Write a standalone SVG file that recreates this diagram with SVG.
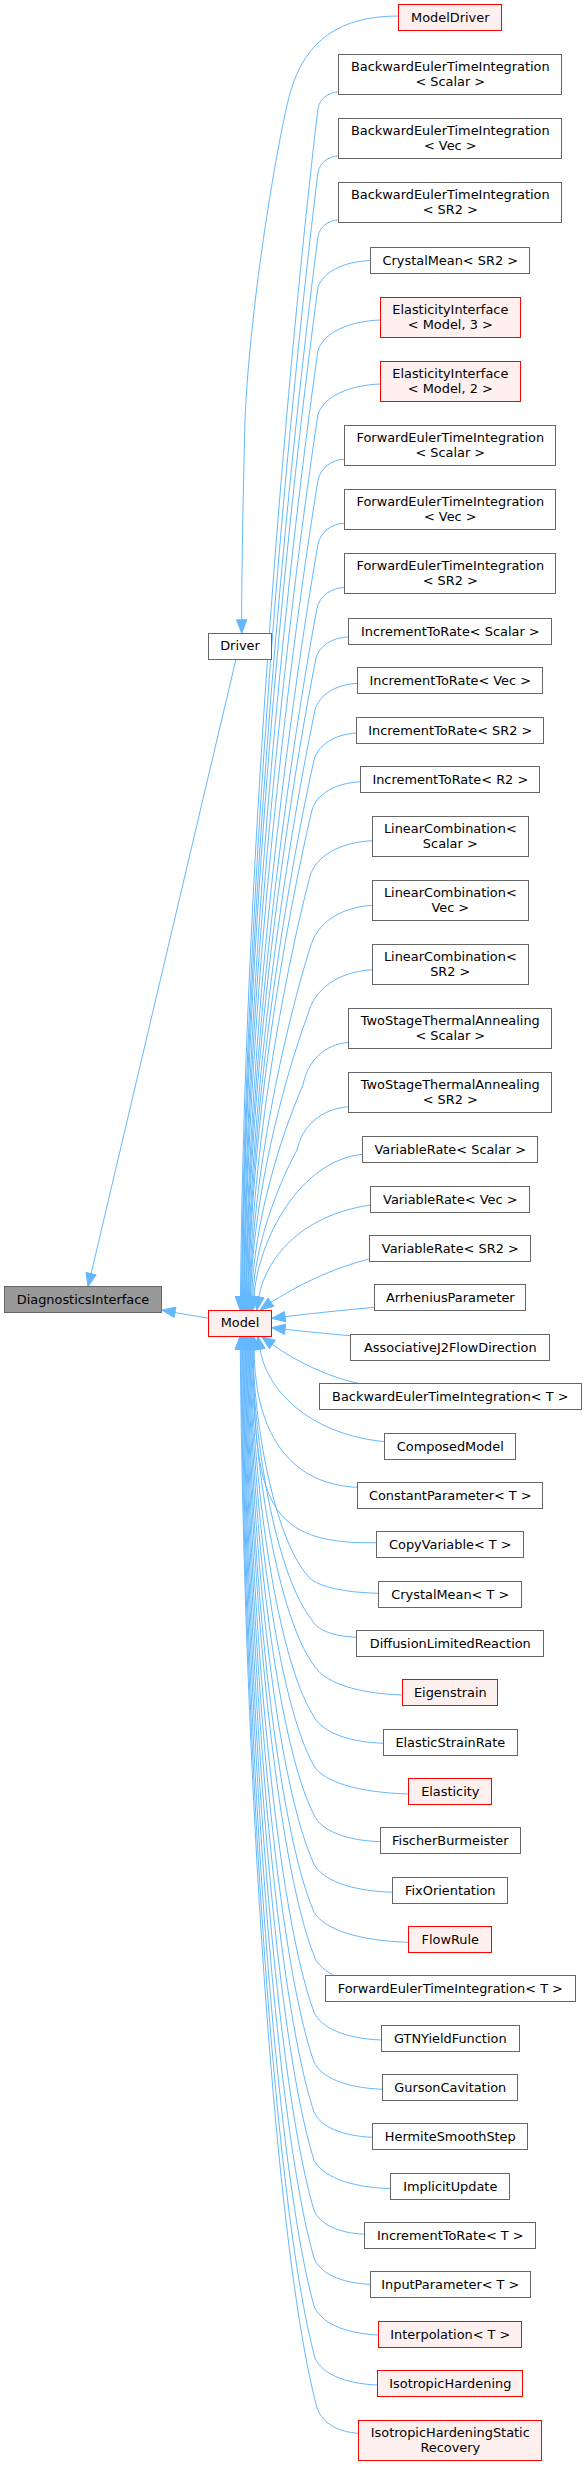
<svg xmlns="http://www.w3.org/2000/svg" width="587" height="2466" viewBox="0 0 587 2466">
<style>
rect{stroke-width:1}
.n rect{fill:#fff;stroke:#666}
.r rect{fill:#fff0f0;stroke:#f00}
.g rect{fill:#999;stroke:#666}
text{font-family:"DejaVu Sans","Liberation Sans",sans-serif;font-size:12.9px;text-anchor:middle;fill:#000}
#edges path{fill:none;stroke:#63b8ff;stroke-width:1}
#edges polygon{fill:#63b8ff;stroke:#63b8ff;stroke-width:1}
</style>
<rect width="587" height="2466" fill="#fff"/>
<g id="edges">
<path d="M398.6,16 C340,16 305,40 290,93.3 C279,133 250,300 245,420 C243.5,480 241.7,560 241.7,619.8"/>
<polygon points="241.7,633.3 236.5,619.8 246.9,619.8"/>
<path d="M236,659 L91.1,1273.6"/>
<polygon points="88,1286.7 96.2,1274.8 86,1272.4"/>
<path d="M208.8,1318.3 L175,1312.6"/>
<polygon points="161.7,1310 174.1,1317.4 175.9,1307.2"/>
<path d="M240.5,1296.5 C244.4,880.5 283.1,405.1 318,108 C320.1,99 327.5,92.5 339,91.7"/>
<polygon points="240,1310 235.3,1296.5 245.7,1296.5"/>
<path d="M241.5,1296.5 C245.3,902.9 283.6,453.1 318,172 C320.1,163 327.5,156.5 339,155.7"/>
<polygon points="241,1310 236.3,1296.5 246.7,1296.5"/>
<path d="M242,1296.5 C245.8,925.3 283.8,501.1 318,236 C320.1,227 327.5,220.5 339,219.7"/>
<polygon points="241.5,1310 236.8,1296.5 247.2,1296.5"/>
<path d="M242.5,1296.5 C246.3,943.2 284,539.4 318,287 C323.3,272.4 341.8,261.8 370.8,260.5"/>
<polygon points="242,1310 237.3,1296.5 247.7,1296.5"/>
<path d="M243.5,1296.5 C247.2,965.2 284.5,586.6 318,350 C324.2,333.5 346,321.5 380.3,320"/>
<polygon points="243,1310 238.3,1296.5 248.7,1296.5"/>
<path d="M244,1296.5 C247.7,987.6 284.7,634.6 318,414 C324.2,397.5 346,385.5 380.3,384"/>
<polygon points="243.5,1310 238.8,1296.5 249.2,1296.5"/>
<path d="M244.5,1296.5 C248.2,1010.7 284.9,684.1 318,480 C320.7,468.5 330.2,460 344.8,459"/>
<polygon points="244,1310 239.3,1296.5 249.7,1296.5"/>
<path d="M245.5,1296.5 C249.1,1033.1 285.4,732.1 318,544 C320.7,532.5 330.2,524 344.8,523"/>
<polygon points="245,1310 240.3,1296.5 250.7,1296.5"/>
<path d="M246,1296.5 C249.6,1055.5 285,780.1 317,608 C319.8,596.6 329.6,588.3 344.8,587.3"/>
<polygon points="245.5,1310 240.8,1296.5 251.2,1296.5"/>
<path d="M246.5,1296.5 C250,1073 284.7,817.6 316,658 C319.3,646.3 330.8,637.8 348.9,636.7"/>
<polygon points="246,1310 241.3,1296.5 251.7,1296.5"/>
<path d="M247.5,1296.5 C250.9,1091.2 284.6,856.6 315,710 C319.3,695.3 334.3,684.6 357.85,683.3"/>
<polygon points="247,1310 242.3,1296.5 252.7,1296.5"/>
<path d="M248,1296.5 C251.3,1108.7 284.3,894.1 314,760 C318.3,745.2 333.4,734.4 356.9,733"/>
<polygon points="247.5,1310 242.8,1296.5 253.2,1296.5"/>
<path d="M248.5,1296.5 C251.7,1126.2 283.4,931.6 312,810 C316.9,794.4 334,783.1 360.85,781.7"/>
<polygon points="248,1310 243.3,1296.5 253.7,1296.5"/>
<path d="M249.5,1296.5 C252.5,1149.3 282.8,981.1 310,876 C316.2,856.6 338.1,842.5 372.3,840.7"/>
<polygon points="249,1310 244.3,1296.5 254.7,1296.5"/>
<path d="M250,1296.5 C253,1174.5 283,1035.1 310,948 C316.2,924.5 338.1,907.4 372.3,905.3"/>
<polygon points="249.5,1310 244.8,1296.5 255.2,1296.5"/>
<path d="M250.5,1296.5 C253.4,1197.6 282.1,1084.6 308,1014 C314.4,989.6 337,971.9 372.3,969.7"/>
<polygon points="250,1310 245.3,1296.5 255.7,1296.5"/>
<path d="M251.6,1296.5 C254.2,1222.5 279.9,1137.9 303,1085 C307.6,1061.5 323.6,1044.4 348.9,1042.3"/>
<polygon points="251,1310 246.4,1296.5 256.8,1296.5"/>
<path d="M252.8,1296.5 C255,1245.2 277.1,1186.6 297,1150 C302.2,1126.2 320.3,1108.9 348.9,1106.7"/>
<polygon points="252,1310 247.6,1296.5 258,1296.5"/>
<path d="M254,1296.6 C258,1240 300,1160 362.9,1154.3"/>
<polygon points="253,1310 248.8,1296.6 259.2,1296.6"/>
<path d="M259,1297 C265,1260 300,1215 370.8,1205"/>
<polygon points="256.8,1310.3 264.1,1297.8 253.9,1296.2"/>
<path d="M271,1302.2 C290,1291 320,1272 370,1258.7"/>
<polygon points="260,1310 274,1306.4 268,1298"/>
<path d="M285.1,1316.7 C315,1313 345,1310 374.9,1307.3"/>
<polygon points="271.7,1318.3 285.7,1321.9 284.5,1311.5"/>
<path d="M285.1,1329.3 C310,1332 330,1334 350.75,1335.7"/>
<polygon points="271.7,1327.7 284.5,1334.5 285.7,1324.1"/>
<path d="M272.4,1344.5 C295,1361 330,1378 361.2,1384"/>
<polygon points="261.5,1336.5 269.3,1348.7 275.5,1340.3"/>
<path d="M260,1349.3 C268,1395 315,1435 384.8,1441.7"/>
<polygon points="257.7,1336 254.9,1350.2 265.1,1348.4"/>
<path d="M254.1,1349.5 C255,1440 295,1485 357.85,1487.3"/>
<polygon points="254,1336 248.9,1349.5 259.3,1349.5"/>
<path d="M253.3,1349.5 C254,1500 265,1545 376.95,1542.7"/>
<polygon points="253,1336 248.1,1349.5 258.5,1349.5"/>
<path d="M252.6,1349.5 C255.4,1440.1 277.5,1542 308,1576 C315.1,1585.5 340,1592.4 379,1593.3"/>
<polygon points="252.3,1336 247.4,1349.5 257.8,1349.5"/>
<path d="M251.9,1349.5 C254.9,1457.7 278.9,1579.4 312,1620 C316.5,1629.5 332.3,1636.4 356.9,1637.3"/>
<polygon points="251.6,1336 246.7,1349.5 257.1,1349.5"/>
<path d="M251.1,1349.5 C254.2,1475.3 279,1616.8 313,1664 C322,1681 353.4,1693.5 402.6,1695"/>
<polygon points="250.8,1336 245.9,1349.5 256.3,1349.5"/>
<path d="M250.4,1349.5 C253.5,1495.7 278.6,1660.2 313,1715 C320.1,1730.6 344.8,1741.9 383.5,1743.3"/>
<polygon points="250.1,1336 245.2,1349.5 255.6,1349.5"/>
<path d="M249.7,1349.5 C252.9,1516.1 278.6,1703.5 314,1766 C323.5,1781.4 356.8,1792.6 408.95,1794"/>
<polygon points="249.4,1336 244.5,1349.5 254.9,1349.5"/>
<path d="M249,1349.5 C252.3,1535.7 278.3,1745.2 314,1815 C320.6,1829.7 343.8,1840.4 380.3,1841.7"/>
<polygon points="248.7,1336 243.8,1349.5 254.2,1349.5"/>
<path d="M248.3,1349.5 C251.6,1555.3 277.9,1786.8 314,1864 C321.9,1879.6 349.4,1890.9 392.65,1892.3"/>
<polygon points="248,1336 243.1,1349.5 253.5,1349.5"/>
<path d="M247.5,1349.5 C250.8,1574.5 277.4,1827.6 314,1912 C323.5,1928.7 356.8,1940.8 408.95,1942.3"/>
<polygon points="247.2,1336 242.3,1349.5 252.7,1349.5"/>
<path d="M246.8,1349.5 C250.2,1592.9 277.5,1866.7 315,1958 C318,1965 326,1971.5 335,1976"/>
<polygon points="246.5,1336 241.6,1349.5 252,1349.5"/>
<path d="M246.1,1349.5 C249.5,1614.5 276.7,1912.6 314,2012 C320.7,2027.4 344.3,2038.6 381.45,2040"/>
<polygon points="245.8,1336 240.9,1349.5 251.3,1349.5"/>
<path d="M245.4,1349.5 C248.8,1634.5 276.3,1955.1 314,2062 C320.9,2077 344.8,2087.9 382.75,2089.3"/>
<polygon points="245.1,1336 240.2,1349.5 250.6,1349.5"/>
<path d="M244.7,1349.5 C248.2,1654.5 275.9,1997.6 314,2112 C319.9,2125.9 340.5,2136 372.85,2137.3"/>
<polygon points="244.4,1336 239.5,1349.5 249.9,1349.5"/>
<path d="M243.9,1349.5 C247.4,1673.7 275.4,2038.4 314,2160 C321.7,2175.8 348.5,2187.3 390.8,2188.7"/>
<polygon points="243.6,1336 238.7,1349.5 249.1,1349.5"/>
<path d="M243.2,1349.5 C246.7,1693.7 275.1,2080.9 314,2210 C319.1,2223.4 336.9,2233.1 364.95,2234.3"/>
<polygon points="242.9,1336 238,1349.5 248.4,1349.5"/>
<path d="M242.5,1349.5 C246.1,1712.9 274.7,2121.7 314,2258 C319.6,2272.5 339.2,2283 370.2,2284.3"/>
<polygon points="242.2,1336 237.3,1349.5 247.7,1349.5"/>
<path d="M241.7,1349.5 C245.3,1732.1 274.2,2162.5 314,2306 C320.5,2322 343.1,2333.6 378.8,2335"/>
<polygon points="241.4,1336 236.5,1349.5 246.9,1349.5"/>
<path d="M241,1349.5 C244.7,1752.9 274.3,2206.7 315,2358 C321.3,2372.9 343.2,2383.7 377.7,2385"/>
<polygon points="240.7,1336 235.8,1349.5 246.2,1349.5"/>
<path d="M240.3,1349.5 C244.1,1772.4 274.7,2248.1 316.7,2406.7 C320.9,2421.3 335.5,2432 358.8,2433.3"/>
<polygon points="240,1336 235.1,1349.5 245.5,1349.5"/>
</g>
<g id="DiagnosticsInterface" class="g"><rect x="4.5" y="1286.5" width="157" height="26"/><text x="83" y="1303.5">DiagnosticsInterface</text></g>
<g id="Model" class="r"><rect x="208.5" y="1310.5" width="63" height="26"/><text x="240" y="1327.3">Model</text></g>
<g id="Driver" class="n"><rect x="208.5" y="633.5" width="63" height="26"/><text x="240" y="650.3">Driver</text></g>
<g id="ModelDriver" class="r"><rect x="398.5" y="4.5" width="103" height="26"/><text x="450.3" y="21.5">ModelDriver</text></g>
<g id="BackwardEulerTimeIntegration_Scalar" class="n"><rect x="338.5" y="54.5" width="223" height="40"/><text x="450.3" y="71.3">BackwardEulerTimeIntegration</text><text x="450.3" y="85.7">&lt; Scalar &gt;</text></g>
<g id="BackwardEulerTimeIntegration_Vec" class="n"><rect x="338.5" y="118.5" width="223" height="40"/><text x="450.3" y="135.3">BackwardEulerTimeIntegration</text><text x="450.3" y="149.7">&lt; Vec &gt;</text></g>
<g id="BackwardEulerTimeIntegration_SR2" class="n"><rect x="338.5" y="182.5" width="223" height="40"/><text x="450.3" y="199.3">BackwardEulerTimeIntegration</text><text x="450.3" y="213.7">&lt; SR2 &gt;</text></g>
<g id="CrystalMean_SR2" class="n"><rect x="370.5" y="247.5" width="159" height="26"/><text x="450.3" y="264.5">CrystalMean&lt; SR2 &gt;</text></g>
<g id="ElasticityInterface_3" class="r"><rect x="380.5" y="297.5" width="140" height="40"/><text x="450.3" y="314.3">ElasticityInterface</text><text x="450.3" y="328.7">&lt; Model, 3 &gt;</text></g>
<g id="ElasticityInterface_2" class="r"><rect x="380.5" y="361.5" width="140" height="40"/><text x="450.3" y="378.3">ElasticityInterface</text><text x="450.3" y="392.7">&lt; Model, 2 &gt;</text></g>
<g id="ForwardEulerTimeIntegration_Scalar" class="n"><rect x="344.5" y="425.5" width="211" height="40"/><text x="450.3" y="442.3">ForwardEulerTimeIntegration</text><text x="450.3" y="456.7">&lt; Scalar &gt;</text></g>
<g id="ForwardEulerTimeIntegration_Vec" class="n"><rect x="344.5" y="489.5" width="211" height="40"/><text x="450.3" y="506.3">ForwardEulerTimeIntegration</text><text x="450.3" y="520.7">&lt; Vec &gt;</text></g>
<g id="ForwardEulerTimeIntegration_SR2" class="n"><rect x="344.5" y="553.5" width="211" height="40"/><text x="450.3" y="570.3">ForwardEulerTimeIntegration</text><text x="450.3" y="584.7">&lt; SR2 &gt;</text></g>
<g id="IncrementToRate_Scalar" class="n"><rect x="348.5" y="618.5" width="203" height="26"/><text x="450.3" y="635.5">IncrementToRate&lt; Scalar &gt;</text></g>
<g id="IncrementToRate_Vec" class="n"><rect x="357.5" y="667.5" width="185" height="26"/><text x="450.3" y="684.5">IncrementToRate&lt; Vec &gt;</text></g>
<g id="IncrementToRate_SR2" class="n"><rect x="356.5" y="717.5" width="187" height="26"/><text x="450.3" y="734.5">IncrementToRate&lt; SR2 &gt;</text></g>
<g id="IncrementToRate_R2" class="n"><rect x="360.5" y="766.5" width="179" height="26"/><text x="450.3" y="783.5">IncrementToRate&lt; R2 &gt;</text></g>
<g id="LinearCombination_Scalar" class="n"><rect x="372.5" y="816.5" width="156" height="40"/><text x="450.3" y="833.3">LinearCombination&lt;</text><text x="450.3" y="847.7">Scalar &gt;</text></g>
<g id="LinearCombination_Vec" class="n"><rect x="372.5" y="880.5" width="156" height="40"/><text x="450.3" y="897.3">LinearCombination&lt;</text><text x="450.3" y="911.7">Vec &gt;</text></g>
<g id="LinearCombination_SR2" class="n"><rect x="372.5" y="944.5" width="156" height="40"/><text x="450.3" y="961.3">LinearCombination&lt;</text><text x="450.3" y="975.7">SR2 &gt;</text></g>
<g id="TwoStageThermalAnnealing_Scalar" class="n"><rect x="348.5" y="1008.5" width="203" height="40"/><text x="450.3" y="1025.3">TwoStageThermalAnnealing</text><text x="450.3" y="1039.7">&lt; Scalar &gt;</text></g>
<g id="TwoStageThermalAnnealing_SR2" class="n"><rect x="348.5" y="1072.5" width="203" height="40"/><text x="450.3" y="1089.3">TwoStageThermalAnnealing</text><text x="450.3" y="1103.7">&lt; SR2 &gt;</text></g>
<g id="VariableRate_Scalar" class="n"><rect x="362.5" y="1136.5" width="175" height="26"/><text x="450.3" y="1153.5">VariableRate&lt; Scalar &gt;</text></g>
<g id="VariableRate_Vec" class="n"><rect x="370.5" y="1186.5" width="159" height="26"/><text x="450.3" y="1203.5">VariableRate&lt; Vec &gt;</text></g>
<g id="VariableRate_SR2" class="n"><rect x="369.5" y="1235.5" width="161" height="26"/><text x="450.3" y="1252.5">VariableRate&lt; SR2 &gt;</text></g>
<g id="ArrheniusParameter" class="n"><rect x="374.5" y="1284.5" width="151" height="26"/><text x="450.3" y="1301.5">ArrheniusParameter</text></g>
<g id="AssociativeJ2FlowDirection" class="n"><rect x="350.5" y="1334.5" width="199" height="26"/><text x="450.3" y="1351.5">AssociativeJ2FlowDirection</text></g>
<g id="BackwardEulerTimeIntegration_T" class="n"><rect x="319.5" y="1383.5" width="262" height="26"/><text x="450.3" y="1400.5">BackwardEulerTimeIntegration&lt; T &gt;</text></g>
<g id="ComposedModel" class="n"><rect x="384.5" y="1433.5" width="131" height="26"/><text x="450.3" y="1450.5">ComposedModel</text></g>
<g id="ConstantParameter_T" class="n"><rect x="357.5" y="1482.5" width="185" height="26"/><text x="450.3" y="1499.5">ConstantParameter&lt; T &gt;</text></g>
<g id="CopyVariable_T" class="n"><rect x="376.5" y="1531.5" width="147" height="26"/><text x="450.3" y="1548.5">CopyVariable&lt; T &gt;</text></g>
<g id="CrystalMean_T" class="n"><rect x="378.5" y="1581.5" width="143" height="26"/><text x="450.3" y="1598.5">CrystalMean&lt; T &gt;</text></g>
<g id="DiffusionLimitedReaction" class="n"><rect x="356.5" y="1630.5" width="187" height="26"/><text x="450.3" y="1647.5">DiffusionLimitedReaction</text></g>
<g id="Eigenstrain" class="r"><rect x="402.5" y="1679.5" width="95" height="26"/><text x="450.3" y="1696.5">Eigenstrain</text></g>
<g id="ElasticStrainRate" class="n"><rect x="383.5" y="1729.5" width="134" height="26"/><text x="450.3" y="1746.5">ElasticStrainRate</text></g>
<g id="Elasticity" class="r"><rect x="408.5" y="1778.5" width="83" height="26"/><text x="450.3" y="1795.5">Elasticity</text></g>
<g id="FischerBurmeister" class="n"><rect x="380.5" y="1827.5" width="140" height="26"/><text x="450.3" y="1844.5">FischerBurmeister</text></g>
<g id="FixOrientation" class="n"><rect x="392.5" y="1877.5" width="115" height="26"/><text x="450.3" y="1894.5">FixOrientation</text></g>
<g id="FlowRule" class="r"><rect x="408.5" y="1926.5" width="83" height="26"/><text x="450.3" y="1943.5">FlowRule</text></g>
<g id="ForwardEulerTimeIntegration_T" class="n"><rect x="325.5" y="1975.5" width="250" height="26"/><text x="450.3" y="1992.5">ForwardEulerTimeIntegration&lt; T &gt;</text></g>
<g id="GTNYieldFunction" class="n"><rect x="381.5" y="2025.5" width="138" height="26"/><text x="450.3" y="2042.5">GTNYieldFunction</text></g>
<g id="GursonCavitation" class="n"><rect x="382.5" y="2074.5" width="135" height="26"/><text x="450.3" y="2091.5">GursonCavitation</text></g>
<g id="HermiteSmoothStep" class="n"><rect x="372.5" y="2123.5" width="155" height="26"/><text x="450.3" y="2140.5">HermiteSmoothStep</text></g>
<g id="ImplicitUpdate" class="n"><rect x="390.5" y="2173.5" width="119" height="26"/><text x="450.3" y="2190.5">ImplicitUpdate</text></g>
<g id="IncrementToRate_T" class="n"><rect x="364.5" y="2222.5" width="171" height="26"/><text x="450.3" y="2239.5">IncrementToRate&lt; T &gt;</text></g>
<g id="InputParameter_T" class="n"><rect x="370.5" y="2271.5" width="160" height="26"/><text x="450.3" y="2288.5">InputParameter&lt; T &gt;</text></g>
<g id="Interpolation_T" class="r"><rect x="378.5" y="2321.5" width="143" height="26"/><text x="450.3" y="2338.5">Interpolation&lt; T &gt;</text></g>
<g id="IsotropicHardening" class="r"><rect x="377.5" y="2370.5" width="145" height="26"/><text x="450.3" y="2387.5">IsotropicHardening</text></g>
<g id="IsotropicHardeningStaticRecovery" class="r"><rect x="358.5" y="2420.5" width="183" height="40"/><text x="450.3" y="2437.3">IsotropicHardeningStatic</text><text x="450.3" y="2451.7">Recovery</text></g>
</svg>
